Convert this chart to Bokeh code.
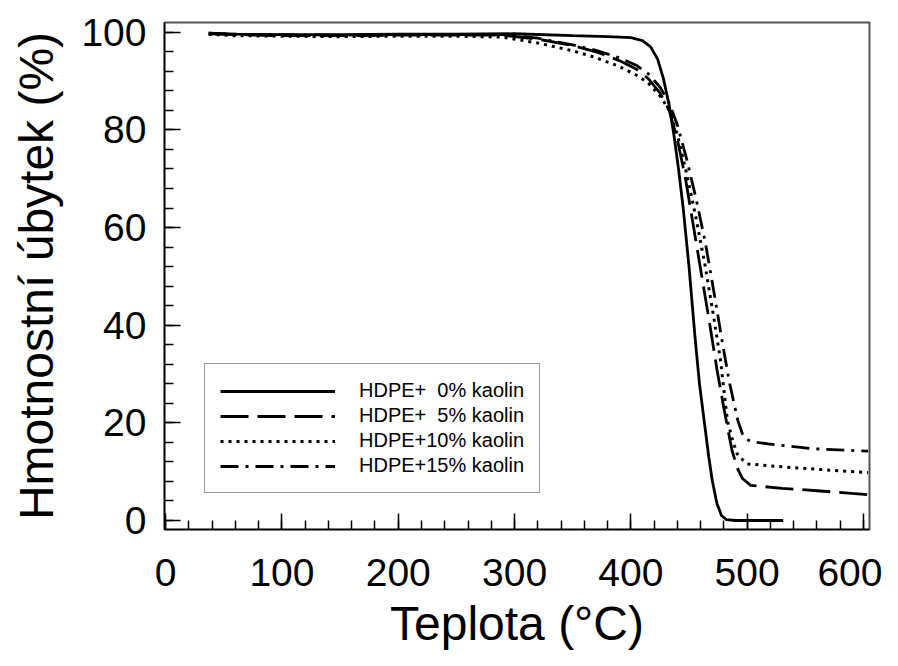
from bokeh.plotting import figure
from bokeh.models import Range1d, SingleIntervalTicker, Legend, LegendItem
from bokeh.embed import file_html
from bokeh.resources import INLINE

# ---- data ----
temp_0 = [37, 60, 100, 150, 200, 250, 300, 350, 380, 400, 410, 417, 423, 428, 433,
          437, 441, 445, 450, 455, 459, 463, 467, 470, 474, 478, 482, 490, 531]
mass_0 = [99.8, 99.6, 99.5, 99.5, 99.6, 99.6, 99.7, 99.3, 99.1, 98.9, 98.3, 97.0, 94.5, 90.5, 85.0,
          79.0, 72.0, 64.0, 52.0, 38.0, 28.0, 20.5, 13.0, 8.2, 3.5, 1.0, 0.2, 0.0, 0.0]

temp_5 = [37, 60, 100, 150, 200, 250, 290, 320, 350, 370, 390, 405, 415, 425, 433,
          440, 447, 454, 461, 468, 474, 480, 484, 487, 492, 496, 503, 530, 560, 604]
mass_5 = [99.7, 99.5, 99.3, 99.3, 99.4, 99.4, 99.4, 98.6, 97.3, 96.0, 94.2, 92.4, 90.5, 87.6, 84.0,
          78.0, 70.0, 60.0, 50.0, 40.0, 31.0, 23.0, 18.0, 14.3, 10.5, 8.6, 7.2, 6.6, 6.1, 5.3]

temp_10 = [37, 60, 100, 150, 200, 250, 290, 320, 350, 370, 390, 405, 415, 425, 433,
           440, 448, 456, 464, 471, 477, 483, 488, 492, 500, 530, 560, 604]
mass_10 = [99.6, 99.3, 99.2, 99.1, 99.2, 99.2, 99.0, 97.8, 96.2, 94.8, 93.0, 91.2, 89.6, 87.0, 84.0,
           79.0, 71.0, 62.0, 52.0, 42.0, 33.0, 20.5, 16.0, 13.3, 11.6, 11.0, 10.5, 9.8]

temp_15 = [37, 60, 100, 150, 200, 250, 290, 320, 350, 370, 390, 405, 415, 425, 433,
           440, 448, 456, 464, 472, 479, 485, 492, 497, 503, 518, 557, 604]
mass_15 = [99.8, 99.6, 99.5, 99.4, 99.5, 99.5, 99.5, 98.8, 97.4, 96.3, 94.8, 93.2, 91.5, 88.8, 85.5,
           81.0, 74.0, 66.0, 57.0, 46.0, 36.0, 28.0, 20.5, 17.0, 16.2, 15.7, 14.7, 14.2]

labels = ["HDPE+  0% kaolin", "HDPE+  5% kaolin", "HDPE+10% kaolin", "HDPE+15% kaolin"]
x_ticks_interval = 100
y_ticks_interval = 20

FONT = "Liberation Sans"

p = figure(width=882, height=666, output_backend="svg", toolbar_location=None,
           x_range=Range1d(-1, 605.2), y_range=Range1d(-1.84, 102.0),
           min_border_left=164, min_border_right=13, min_border_top=22, min_border_bottom=137)
p.background_fill_color = "white"
p.border_fill_color = "white"
p.outline_line_color = "#555555"
p.outline_line_width = 2
p.grid.visible = False

p.xaxis.ticker = SingleIntervalTicker(interval=x_ticks_interval, num_minor_ticks=5)
p.yaxis.ticker = SingleIntervalTicker(interval=y_ticks_interval, num_minor_ticks=5)

for ax in (p.xaxis[0], p.yaxis[0]):
    ax.axis_line_color = "black"
    ax.axis_line_width = 1.5
    ax.major_tick_in = 16
    ax.major_tick_out = 0
    ax.minor_tick_in = 9
    ax.minor_tick_out = 0
    ax.major_tick_line_color = "black"
    ax.minor_tick_line_color = "black"
    ax.major_tick_line_width = 1.5
    ax.minor_tick_line_width = 1.5
    ax.major_label_text_font = FONT
    ax.major_label_text_font_size = "39px"
    ax.major_label_text_color = "black"
    ax.axis_label_text_font = FONT
    ax.axis_label_text_font_size = "48px"
    ax.axis_label_text_font_style = "normal"
    ax.axis_label_text_color = "black"

p.xaxis.axis_label = "Teplota (°C)"
p.yaxis.axis_label = "Hmotnostní úbytek (%)"
p.xaxis.major_label_standoff = 29
p.xaxis.axis_label_standoff = 8
p.yaxis.major_label_standoff = 18
p.yaxis.axis_label_standoff = 15

r0 = p.line(temp_0, mass_0, line_color="black", line_width=2.8)
r5 = p.line(temp_5, mass_5, line_color="black", line_width=2.8, line_dash="28 9")
r10 = p.line(temp_10, mass_10, line_color="black", line_width=3, line_dash="3 5")
r15 = p.line(temp_15, mass_15, line_color="black", line_width=2.8, line_dash="18 7 3 7")

legend = Legend(items=[LegendItem(label=labels[0], renderers=[r0]),
                       LegendItem(label=labels[1], renderers=[r5]),
                       LegendItem(label=labels[2], renderers=[r10]),
                       LegendItem(label=labels[3], renderers=[r15])],
                location=(40, 36), orientation="vertical",
                glyph_width=115, glyph_height=20, label_height=20,
                label_standoff=24, spacing=2, padding=15, margin=0,
                label_text_font=FONT, label_text_font_size="20px", label_text_color="black",
                border_line_color="#333333", border_line_width=1.5,
                background_fill_color="white", background_fill_alpha=1.0)
p.add_layout(legend, "center")

open("out.html", "w").write(file_html(p, INLINE))
